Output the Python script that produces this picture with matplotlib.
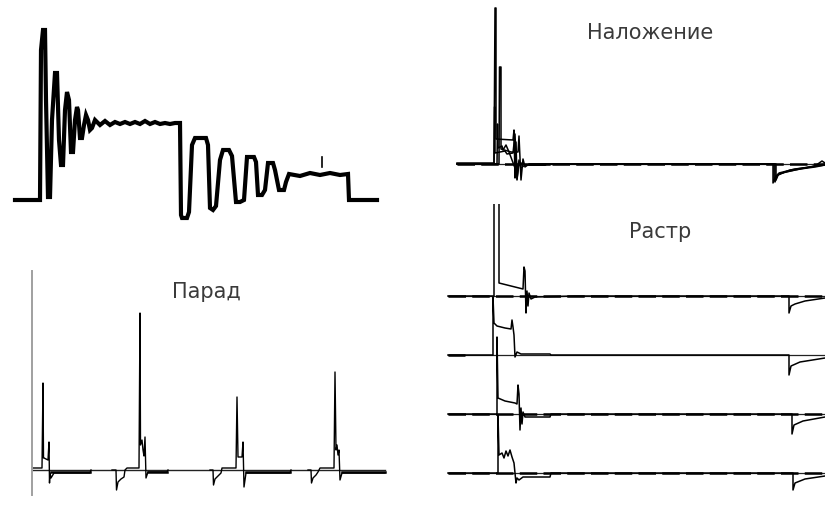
import matplotlib
matplotlib.use("Agg")
import matplotlib.pyplot as plt

# ---- data: time (px-like units) and level above baseline ----

# top-left: step response with ringing
step_t = [15, 40, 41, 43, 45, 46, 48, 50, 52, 55, 57, 59, 61, 63, 65, 67, 69, 71, 73, 75, 77, 78,
          80, 82, 84, 86, 88, 90, 92, 95,
          100, 105, 110, 115, 120, 125, 130, 135, 140, 145, 150, 155, 160, 165, 170, 175, 180,
          181, 182, 187, 189, 192, 195, 206, 208, 210, 213, 216, 220, 223, 229, 232, 236, 240, 244,
          247, 254, 256, 258, 262, 265, 268, 273, 275, 279, 284, 286, 289,
          300, 310, 320, 330, 340, 348, 349, 377]
step_lv = [0, 0, 150, 170, 170, 100, 3, 3, 80, 127, 127, 60, 35, 35, 90, 108, 100, 48, 48, 80, 93, 90,
           62, 62, 75, 85, 80, 70, 72, 80,
           75, 79, 75, 78, 76, 78, 76, 78, 76, 79, 76, 78, 76, 77, 76, 77, 77,
           -15, -18, -18, -12, 55, 62, 62, 55, -8, -10, -6, 40, 50, 50, 44, -2, -2, 0,
           43, 43, 38, 5, 5, 10, 37, 37, 30, 10, 10, 18, 26,
           24, 27, 25, 27, 25, 26, 0, 0]
glitch_t = [322, 322]
glitch_lv = [33, 43]

# top-right: overlay of four lines
nal_traces = [
    ([12, 49, 50, 51, 51, 68, 69, 70, 71, 72, 74, 80, 105, 106, 328, 328, 331, 340, 355, 370, 380],
     [1, 1, 156, 156, 25, 24, 34, -14, 8, -6, 2, -1, -1, 0, 0, -19, -12, -8, -5, -3, -1]),
    ([12, 49, 49.5, 50, 50, 60, 62, 68, 70, 72, 74, 76, 80, 100, 101, 329, 329, 332, 345, 365, 380],
     [0, 0, 57, 57, 11, 13, 10, 11, 30, -16, 4, -4, -1, -1, 0, 0, -17, -11, -6, -3, 0]),
    ([12, 54, 54.5, 56, 56, 66, 73, 74, 76, 78, 80, 84, 330, 330, 333, 350, 370, 377, 380],
     [0, 0, 97, 97, 15, 12, 12, 28, -16, 5, -3, 0, 0, -18, -10, -6, -2, 3, 1]),
    ([12, 52, 52.5, 53, 57, 58, 61, 64, 70, 71, 72, 74, 331, 331, 334, 350, 380],
     [0, 0, 40, 16, 18, 14, 19, 12, -4, 22, -15, 0, 0, -16, -9, -5, -1]),
]

# bottom-left: parade of four components
parad_traces = [
    ([0, 10, 11, 11.5, 12, 16, 17, 17.5, 18, 19, 22, 58, 59],
     [2, 2, 87, 12, 12, 10, 28, -13, -3, -8, -3, -3, 0]),
    ([80, 84, 84.5, 86, 89, 92, 93, 95, 107, 108, 108.5, 110, 111, 112, 113, 114, 116, 135, 136],
     [0, 0, -20, -12, -9, -7, 0, 2, 2, 157, 25, 30, 20, 14, 33, -8, -2, -2, 0]),
    ([178, 181, 181.5, 183, 186, 189, 190, 192, 204, 205, 206, 210, 211, 212, 214, 258, 259],
     [0, 0, -15, -9, -6, -3, 2, 2, 2, 73, 13, 13, 28, -17, -3, -3, 0]),
    ([276, 279, 279.5, 281, 284, 286, 288, 301, 302, 303, 304, 305, 306, 307, 308, 310, 353],
     [0, 0, -13, -8, -5, -2, 2, 2, 2, 98, 20, 25, 15, 20, -10, -3, -3]),
]
parad_tails = [(19, 58), (116, 135), (214, 258), (310, 353)]

# bottom-right: raster of four lines
rastr_rows = [0, -59, -118, -177]
rastr_traces = [
    ([3, 49, 49, 54, 54, 66, 78, 79, 80, 81, 82, 83, 84, 86, 90, 130, 344, 344, 346, 350, 360, 380],
     [0, 0, 200, 200, 13, 10, 7, 29, 25, -17, 5, -10, 3, -3, -1, 0, 0, -17, -10, -8, -5, -2]),
    ([3, 48, 48, 49, 52, 60, 66, 67, 68, 69, 70, 72, 76, 85, 105, 106, 344, 344, 346, 355, 380],
     [0, 0, 58, 32, 29, 27, 26, 35, 28, 20, -2, 3, 1, 1, 1, 0, 0, -20, -11, -7, -3]),
    ([3, 52, 52, 53, 60, 70, 72, 73, 74, 75, 76, 77, 78, 80, 85, 105, 106, 347, 347, 349, 358, 380],
     [0, 0, 77, 16, 13, 11, 10, 29, 20, -16, 6, -10, 2, -3, -3, -3, 0, 0, -20, -11, -7, -3]),
    ([3, 53, 53, 54, 57, 59, 61, 63, 65, 67, 69, 70, 71, 72, 74, 78, 105, 106, 348, 348, 350, 360, 380],
     [0, 0, 58, 18, 20, 15, 22, 17, 23, 16, 10, 0, -10, -5, -7, -4, -4, 0, 0, -17, -10, -6, -3]),
]
rastr_dash_end = [380, 20, 380, 380]

titles = ["Наложение", "Парад", "Растр"]

# ---- figure ----
W, H = 825, 505
fig = plt.figure(figsize=(8.25, 5.05), dpi=100)
fig.patch.set_facecolor("white")


def panel(x0, x1, y0, y1):
    ax = fig.add_axes([x0 / W, 1 - y1 / H, (x1 - x0) / W, (y1 - y0) / H])
    ax.set_axis_off()
    return ax


title_kw = dict(fontsize=15, color="#3a3a3a", family=["DejaVu Sans"],
                ha="center", va="center")
dash_style = (7, 2.5)

# top-left
ax1 = panel(0, 420, 0, 250)
ax1.set_xlim(0, 420)
ax1.set_ylim(-50, 200)
ax1.plot(step_t, step_lv, color="black", lw=3.0, solid_joinstyle="miter")
ax1.plot(glitch_t, glitch_lv, color="black", lw=1.2)

# top-right
ax2 = panel(445, 825, 0, 200)
ax2.set_xlim(0, 380)
ax2.set_ylim(-36, 164)
ax2.plot([12, 380], [0, 0], color="#222222", lw=0.9)
for t, lv in nal_traces:
    ax2.plot(t, lv, color="black", lw=1.1)
ax2.plot([12, 380], [0, 0], color="black", lw=1.8, dashes=dash_style)
ax2.text(205, 131, titles[0], **title_kw)

# bottom-left
ax3 = fig.add_axes([32 / W, 1 - 505 / H, 368 / W, 250 / H])
ax3.set_xlim(0, 368)
ax3.set_ylim(-35, 215)
for s in ["top", "right", "bottom"]:
    ax3.spines[s].set_visible(False)
ax3.spines["left"].set_bounds(-25, 199)
ax3.spines["left"].set_color("#a0a0a0")
ax3.spines["left"].set_linewidth(1.4)
ax3.set_xticks([])
ax3.set_yticks([])
ax3.patch.set_alpha(0)
ax3.plot([0, 353], [0, 0], color="#222222", lw=1.0)
for t, lv in parad_traces:
    ax3.plot(t, lv, color="black", lw=1.0)
for a, b in parad_tails:
    ax3.plot([a, b], [-2, -2], color="black", lw=1.8)
ax3.text(174, 178, titles[1], **title_kw)

# bottom-right
ax4 = panel(445, 825, 204, 505)
ax4.set_xlim(0, 380)
ax4.set_ylim(-209, 92)
for off, (t, lv), dend in zip(rastr_rows, rastr_traces, rastr_dash_end):
    ax4.plot([3, 380], [off, off], color="#222222", lw=0.9)
    ax4.plot(t, [v + off for v in lv], color="black", lw=1.1)
    ax4.plot([3, dend], [off, off], color="black", lw=1.8, dashes=dash_style)
ax4.text(215, 64, titles[2], **title_kw)

fig.savefig("out.png", dpi=100, facecolor="white")
